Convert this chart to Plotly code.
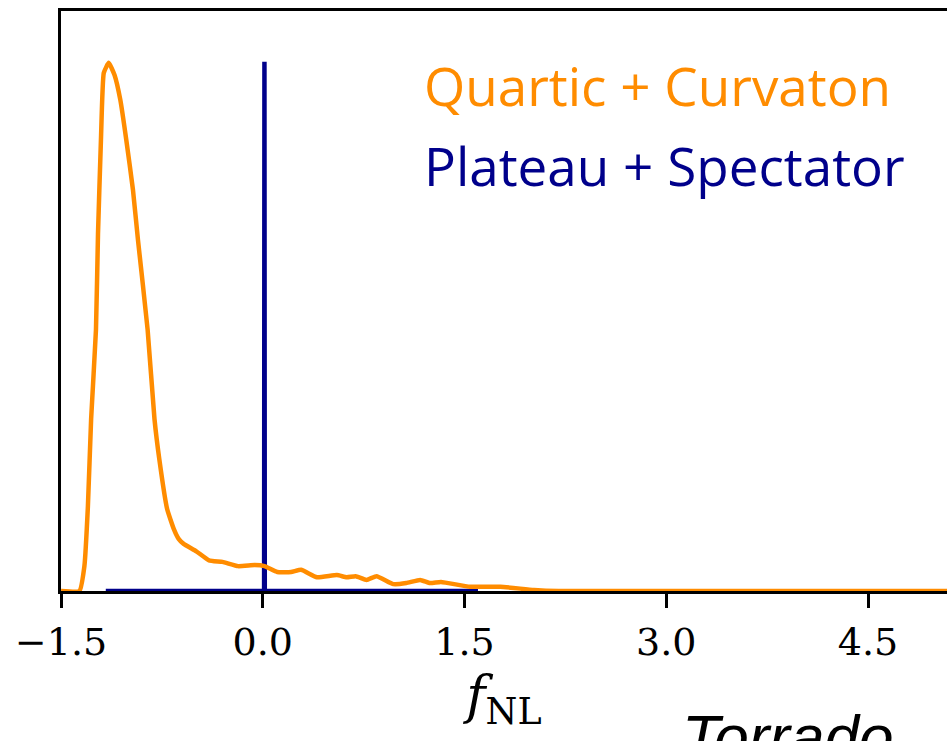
import plotly.graph_objects as go

# Orange: Quartic + Curvaton KDE
quartic_x = [-1.5, -1.363, -1.326, -1.300, -1.276, -1.240, -1.225, -1.203, -1.182, -1.145,
             -1.102, -1.059, -1.015, -0.965, -0.928, -0.856, -0.805, -0.769, -0.711, -0.661,
             -0.624, -0.588, -0.494, -0.400, -0.299, -0.183, -0.060, 0.013, 0.108, 0.211,
             0.285, 0.403, 0.551, 0.624, 0.691, 0.772, 0.846, 0.971, 1.067, 1.170,
             1.244, 1.325, 1.540, 1.767, 2.016, 2.200, 5.2]
quartic_y = [0.0, 0.0, 0.047, 0.16, 0.325, 0.494, 0.674, 0.853, 0.979, 0.998,
             0.975, 0.928, 0.853, 0.758, 0.664, 0.494, 0.325, 0.249, 0.155, 0.117,
             0.098, 0.089, 0.075, 0.058, 0.055, 0.047, 0.049, 0.047, 0.036, 0.036,
             0.040, 0.026, 0.030, 0.026, 0.028, 0.021, 0.028, 0.013, 0.015, 0.021,
             0.015, 0.017, 0.008, 0.008, 0.002, 0.0, 0.0]

# Navy: Plateau + Spectator KDE (very narrow peak near 0)
plateau_x = [-1.167, 0.010, 0.0125, 0.015, 1.6]
plateau_y = [0.0, 0.0, 1.0, 0.0, 0.0]

tick_vals = [-1.5, 0.0, 1.5, 3.0, 4.5]
tick_text = ["\u22121.5", "0.0", "1.5", "3.0", "4.5"]

legend_labels = ["Quartic + Curvaton", "Plateau + Spectator"]
ORANGE = "#FF8C00"
NAVY = "#00008B"

fig = go.Figure()
fig.add_trace(go.Scatter(x=plateau_x, y=plateau_y, mode="lines",
                         line=dict(color=NAVY, width=4.5), showlegend=False))
fig.add_trace(go.Scatter(x=quartic_x, y=quartic_y, mode="lines",
                         line=dict(color=ORANGE, width=4.5, shape="spline", smoothing=0.4),
                         showlegend=False))

pl, pt, pw, ph = 61, 11, 886, 580
anns = [
    dict(text=legend_labels[0], font=dict(family="Open Sans", size=53, color=ORANGE),
         x=(422 - pl) / pw, y=1 - (86 - pt) / ph, xref="paper", yref="paper",
         xanchor="left", yanchor="middle", showarrow=False),
    dict(text=legend_labels[1], font=dict(family="Open Sans", size=53, color=NAVY),
         x=(422 - pl) / pw, y=1 - (165 - pt) / ph, xref="paper", yref="paper",
         xanchor="left", yanchor="middle", showarrow=False),
    dict(text="<i>Torrado</i>", font=dict(family="Liberation Sans", size=62, color="black"),
         x=(680 - pl) / pw, y=1 - (700 - pt) / ph, xref="paper", yref="paper",
         xanchor="left", yanchor="top", showarrow=False),
]

fig.update_layout(
    width=947, height=741,
    margin=dict(l=61, r=0, t=11, b=150),
    paper_bgcolor="white", plot_bgcolor="white",
    xaxis=dict(range=[-1.5, 5.087], tickmode="array", tickvals=tick_vals, ticktext=tick_text,
               ticks="outside", ticklen=14, tickwidth=2.5, tickcolor="black",
               showline=True, linecolor="black", linewidth=2.5, mirror=True,
               showgrid=False, zeroline=False,
               tickfont=dict(family="DejaVu Serif", size=38, color="black"),
               ticklabelstandoff=2,
               title=dict(text="<i>f</i><sub>NL</sub>",
                          font=dict(family="DejaVu Serif", size=52, color="black"),
                          standoff=14)),
    yaxis=dict(range=[0, 1.096], showticklabels=False, ticks="",
               showline=True, linecolor="black", linewidth=2.5, mirror=False,
               showgrid=False, zeroline=False),
    annotations=anns,
)

fig.write_html("out.html")
